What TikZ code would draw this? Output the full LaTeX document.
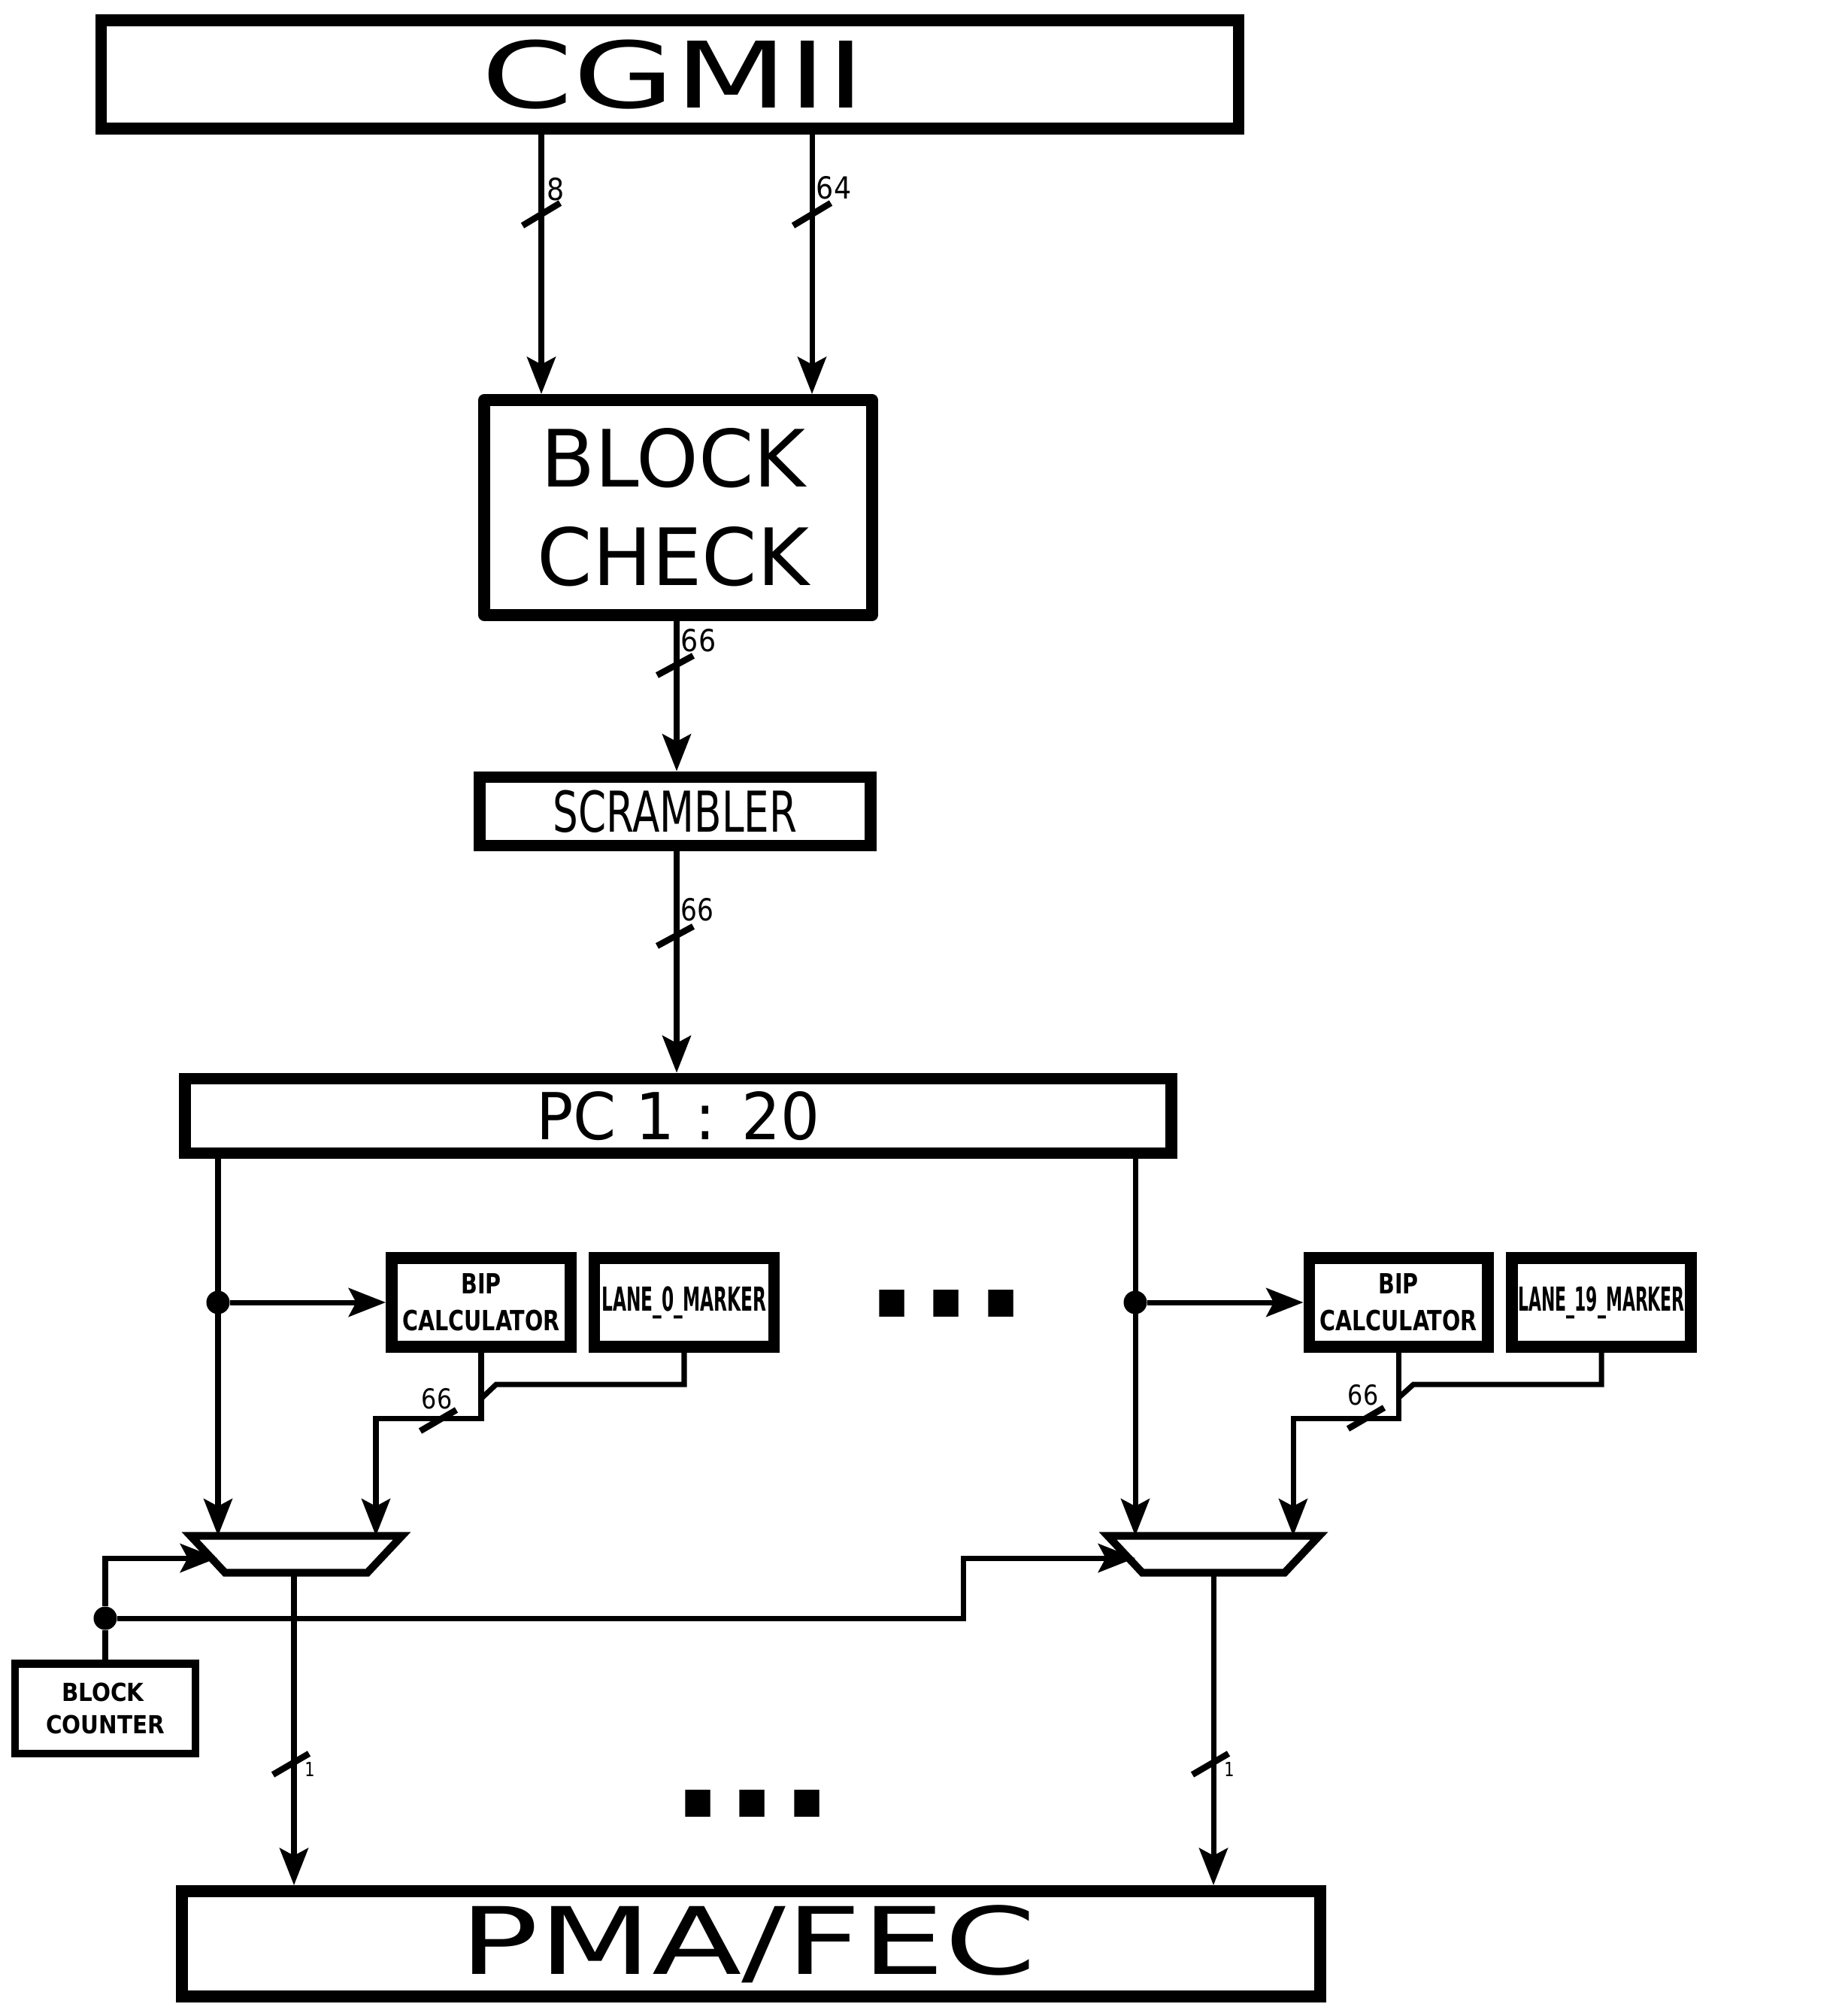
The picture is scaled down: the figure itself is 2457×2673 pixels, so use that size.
\documentclass[tikz,border=0pt]{standalone}
\usepackage{fontspec}
\setmainfont{DejaVu Sans}
\usepackage{tikz}
\usetikzlibrary{arrows.meta}
\newcommand{\sx}[2]{\scalebox{#1}[1]{#2}}
\newcommand{\fs}[1]{\fontsize{#1}{1.2\dimexpr#1\relax}\selectfont}
\tikzset{
  wide/.style={draw,line width=4.5pt,inner sep=0pt},
  thin/.style={draw,line width=2.85pt,inner sep=0pt},
  bus/.style={line width=2pt,-{Stealth[length=14pt,width=10.8pt,inset=2.8pt]}},
  wire/.style={line width=2pt},
  busmark/.style={line width=2.4pt},
  bitnum/.style={inner sep=0pt,font=\fs{11.5pt}},
  muxframe/.style={inner sep=0pt,outer sep=0pt,minimum width=2.81cm,minimum height=.49cm},
  muxline/.style={line width=2.9pt},
  junction/.style={circle,fill,inner sep=0pt,minimum size=.31cm},
  gap/.style={inner sep=0pt,font=\bfseries\fs{54pt}}
}
\begin{document}
\begin{tikzpicture}[x=.01cm,y=-.01cm]
  \useasboundingbox (0,0) rectangle (2457,2673);
  % blocks
  \node (cgmii) at (891,99) [wide,minimum width=15.12cm,minimum height=1.44cm] {\fs{34.7pt}\hspace*{.1cm}\sx{1.43}{CGMII}};
  \node (check) at (902,675) [wide,line join=round,minimum width=5.15cm,minimum height=2.86cm,align=center,font=\fs{29.9pt}]
    {BLOCK\hspace*{.13cm}\\[1.4pt] CHECK\hspace*{.13cm}};
  \node (scram) at (898,1079) [wide,minimum width=5.2cm,minimum height=.91cm] {\fs{21.3pt}\sx{.71}{SCRAMBLER}};
  \node (pc) at (902,1484) [wide,minimum width=13.11cm,minimum height=.99cm] {\fs{24.5pt}\sx{.95}{PC 1 : 20}};
  \node (pma) at (999,2585) [wide,minimum width=15.13cm,minimum height=1.4cm] {\fs{35.2pt}\hspace*{-.08cm}\sx{1.41}{PMA/FEC}};
  \node (bipa) at (640,1732) [wide,minimum width=2.38cm,minimum height=1.18cm,align=center,font=\bfseries\fs{10.5pt}]
    {\sx{.775}{BIP}\\[1.3pt] \sx{.775}{CALCULATOR}};
  \node (marka) at (910,1732) [wide,minimum width=2.39cm,minimum height=1.18cm,font=\bfseries]
    {\fs{12.5pt}\sx{.53}{LANE\_0\_MARKER}};
  \node (bipb) at (1860,1732) [wide,minimum width=2.37cm,minimum height=1.18cm,align=center,font=\bfseries\fs{10.5pt}]
    {\sx{.775}{BIP}\\[1.3pt] \sx{.775}{CALCULATOR}};
  \node (markb) at (2130,1732) [wide,minimum width=2.38cm,minimum height=1.18cm,font=\bfseries]
    {\fs{12.5pt}\sx{.5}{LANE\_19\_MARKER}};
  \node (muxa) at (394,2067) [muxframe] {};
  \node (muxb) at (1614,2067) [muxframe] {};
  \draw[muxline] (muxa.north west) -- (muxa.north east) -- ([xshift=-.46cm]muxa.south east) -- ([xshift=.46cm]muxa.south west) -- cycle;
  \draw[muxline] (muxb.north west) -- (muxb.north east) -- ([xshift=-.46cm]muxb.south east) -- ([xshift=.46cm]muxb.south west) -- cycle;
  \node (count) at (140,2272) [thin,minimum width=2.4cm,minimum height=1.19cm,align=center,font=\bfseries\fs{9.4pt}]
    {\sx{.89}{BLOCK}\hspace*{.06cm}\\[.8pt] \sx{.89}{COUNTER}};
  % junctions
  \node (dota) at (290,1732) [junction] {};
  \node (dotb) at (1510,1732) [junction] {};
  \node (dotc) at (140,2152) [junction] {};
  % where the buses leave the blocks
  \coordinate (ctl) at (720,0);
  \coordinate (dat) at (1080,0);
  \coordinate (main) at (900,0);
  \coordinate (kneea) at (500,1886);
  \coordinate (kneeb) at (1720,1886);
  \coordinate (benda) at (660,1841);
  \coordinate (bendb) at (1880,1841);
  \coordinate (joina) at (641,1859);
  \coordinate (joinb) at (1860,1859);
  \coordinate (sela) at (289,2072);
  \coordinate (selb) at (1510,2072);
  \coordinate (stepc) at (1281,2152);
  \coordinate (outa) at (391,0);
  \coordinate (outb) at (1614,0);
  % buses
  \draw[bus] (cgmii.south -| ctl) -- (check.north -| ctl);
  \draw[bus] (cgmii.south -| dat) -- (check.north -| dat);
  \draw[bus] (check.south -| main) -- (scram.north -| main);
  \draw[bus] (scram.south -| main) -- (pc.north -| main);
  \draw[bus] (pc.south -| dota) -- (muxa.north -| dota);
  \draw[bus] (pc.south -| dotb) -- (muxb.north -| dotb);
  \draw[bus] (dota) -- (bipa.west);
  \draw[bus] (dotb) -- (bipb.west);
  \draw[bus] (bipa.south) |- (kneea) -- (muxa.north -| kneea);
  \draw[bus] (bipb.south) |- (kneeb) -- (muxb.north -| kneeb);
  \draw[wire] (marka.south) |- (benda) -- (joina);
  \draw[wire] (markb.south) |- (bendb) -- (joinb);
  \draw[wire] (count.north) -- (dotc);
  \draw[bus] (dotc) |- (sela);
  \draw[bus] (dotc) -- (stepc) |- (selb);
  \draw[bus] (muxa.south -| outa) -- (pma.north -| outa);
  \draw[bus] (muxb.south -| outb) -- (pma.north -| outb);
  % bus widths
  \draw[busmark] (720,285) +(-25,15) -- +(25,-15);
  \draw[busmark] (1080,285) +(-25,15) -- +(25,-15);
  \draw[busmark] (898,885) +(-24,13) -- +(24,-13);
  \draw[busmark] (898,1245) +(-24,13) -- +(24,-13);
  \draw[busmark] (583,1889) +(-24,14) -- +(24,-14);
  \draw[busmark] (1817,1886) +(-24,14) -- +(24,-14);
  \draw[busmark] (387,2346) +(-24,14) -- +(24,-14);
  \draw[busmark] (1610,2346) +(-24,14) -- +(24,-14);
  \node (w8) at (739,252) [bitnum] {\sx{.9}{8}};
  \node (w64) at (1109,250) [bitnum] {\sx{.9}{64}};
  \node (w66a) at (929,852) [bitnum] {\sx{.9}{66}};
  \node (w66b) at (927,1210) [bitnum] {\sx{.85}{66}};
  \node (w66c) at (581,1860) [bitnum,font=\fs{10.4pt}] {\sx{.87}{66}};
  \node (w66d) at (1813,1855) [bitnum,font=\fs{10.4pt}] {\sx{.87}{66}};
  \node (w1a) at (412,2353) [bitnum,font=\fs{7.4pt}] {\sx{.8}{1}};
  \node (w1b) at (1635,2353) [bitnum,font=\fs{7.4pt}] {\sx{.8}{1}};
  % more lanes
  \node (morea) at (1259,1734) [gap] {...};
  \node (moreb) at (1001,2399) [gap] {...};
\end{tikzpicture}
\end{document}
